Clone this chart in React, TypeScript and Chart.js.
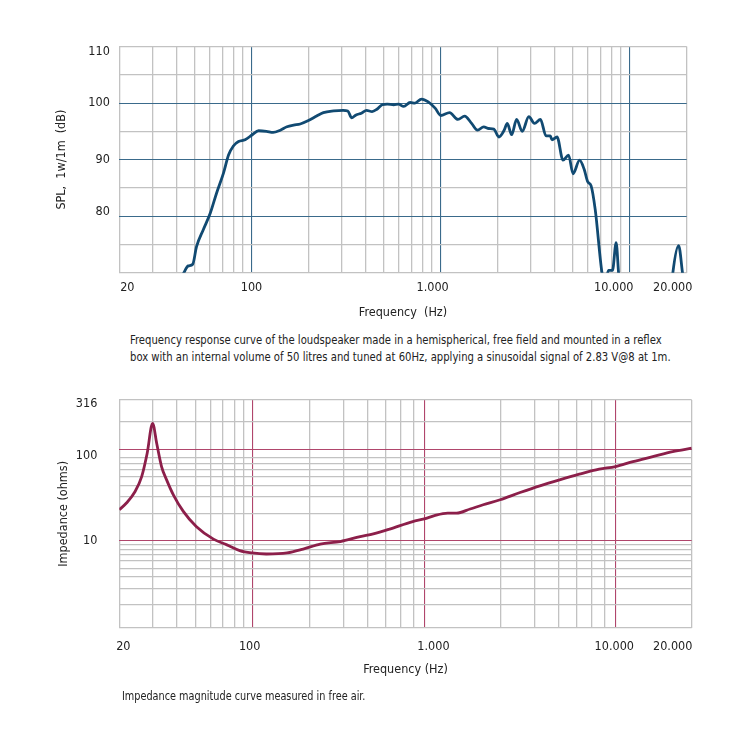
import React, { useEffect, useRef } from 'react';
import { Chart, registerables } from 'chart.js';

Chart.register(...registerables);

const FONT = "'DejaVu Sans Condensed', 'Liberation Sans Narrow', 'DejaVu Sans', sans-serif";

// ---------- Frequency response (SPL) ----------
const SPL_FREQ_HZ = [40, 43.9, 46.3, 48.9, 51.2, 55.6, 60.5, 65.4, 71.1, 75.6, 80.2, 85.4, 92.5, 101, 109, 120, 130, 142, 154, 167, 181, 200, 221, 240, 272, 305, 323, 338, 357, 381, 406, 434, 460, 491, 522, 565, 599, 638, 690, 732, 792, 860, 935, 1002, 1115, 1235, 1340, 1458, 1567, 1690, 1797, 1910, 2032, 2160, 2252, 2374, 2522, 2700, 2926, 3134, 3370, 3609, 3800, 3880, 4126, 4436, 4750, 5010, 5430, 5750, 5990, 6240, 6570, 7130, 7400, 7720, 8100, 8470, 8750, 9200, 12000, 16300, 16900, 18120, 19000, 20000];
const SPL_DB = [67, 70, 71.2, 71.5, 74.6, 77.6, 80.5, 84.1, 87.6, 90.8, 92.4, 93.2, 93.5, 94.4, 95.1, 95.0, 94.8, 95.2, 95.8, 96.1, 96.3, 96.9, 97.7, 98.3, 98.6, 98.7, 98.6, 97.4, 97.9, 98.2, 98.7, 98.5, 98.9, 99.7, 99.8, 99.7, 99.8, 99.4, 100.1, 100.0, 100.7, 100.2, 99.1, 97.8, 98.3, 97.1, 97.7, 96.4, 95.2, 95.8, 95.5, 95.4, 94.0, 95.1, 96.4, 94.4, 97.1, 95.0, 97.6, 96.4, 97.1, 94.2, 94.2, 93.5, 94.0, 89.9, 90.8, 87.5, 89.9, 88.2, 86.1, 85.4, 81.1, 70.0, 68.0, 70.4, 70.4, 75.3, 69.5, 64, 62, 64, 70.0, 74.8, 70.0, 64];

const SPL_X_GRID = [20, 30, 40, 50, 60, 70, 80, 90, 100, 200, 300, 400, 500, 600, 700, 800, 900, 1000, 2000, 3000, 4000, 5000, 6000, 7000, 8000, 9000, 10000, 20000];
const SPL_X_MAJOR = [100, 1000, 10000];
const SPL_X_LABEL_VALUES = [20, 100, 1000, 10000, 20000];
const SPL_X_LABELS = ['20', '100', '1.000', '10.000', '20.000'];

const SPL_Y_GRID = [70, 75, 80, 85, 90, 95, 100, 105, 110];
const SPL_Y_MAJOR = [80, 90, 100];
const SPL_Y_LABEL_VALUES = [110, 100, 90, 80];
const SPL_Y_LABELS = ['110', '100', '90', '80'];

// ---------- Impedance ----------
const IMP_FREQ_HZ = [20, 21.8, 24.2, 26.2, 28.0, 29.9, 31.4, 33.3, 35.4, 38.4, 43.3, 50.6, 62.3, 73.3, 85.5, 99.3, 118, 151.5, 184, 226, 288, 366, 429, 522, 690, 793, 897, 1053, 1170, 1380, 1615, 1980, 2520, 3200, 4060, 5150, 6550, 7970, 9840, 12500, 15900, 20000];
const IMP_OHMS = [21.8, 25.8, 34.5, 50.2, 90.4, 192, 116, 64.6, 46.2, 31.7, 20.9, 14.3, 10.4, 9.0, 7.8, 7.35, 7.16, 7.35, 8.1, 9.2, 9.8, 11.1, 11.9, 13.4, 16.2, 17.3, 18.8, 20.0, 20.0, 22.2, 24.7, 28.0, 33.6, 39.8, 46.3, 53.3, 60.5, 64.6, 73.2, 83, 94.2, 102.5];

const IMP_X_GRID = [20, 30, 40, 50, 60, 70, 80, 90, 100, 200, 300, 400, 500, 600, 700, 800, 2000, 3000, 4000, 5000, 6000, 7000, 8000, 20000];
const IMP_X_MAJOR = [100, 800, 8000];
const IMP_X_LABEL_VALUES = [20, 100, 1000, 10000, 20000];
const IMP_X_LABELS = ['20', '100', '1.000', '10.000', '20.000'];

const IMP_Y_MIN = 1.12;
const IMP_Y_MAX = 345;
const IMP_Y_GRID = [1.12, 2, 3, 4, 5, 6, 7, 8, 9, 10, 20, 30, 40, 50, 60, 70, 80, 100, 200, 345];
const IMP_Y_MAJOR = [10, 100];
const IMP_Y_LABEL_VALUES = [316, 100, 10];
const IMP_Y_LABELS = ['316', '100', '10'];

// ---------- styles ----------
const GRAY = '#c2c2c2';
const BLUE = '#3a6a8b';
const RED = '#b0466c';
const SPL_COLOR = '#114a72';
const IMP_COLOR = '#8c1f4a';
const TEXT = '#222222';
const TICK_SIZE = 12.5;
const TITLE_SIZE = 12.5;

const SPL_X_LABEL_SHIFT = [8, 0, -8, -16, -14];
const SPL_Y_LABEL_SHIFT = [5, 0, 0, -4];
const IMP_X_LABEL_SHIFT = [4, -3, -10, -20, -19];
const IMP_Y_LABEL_SHIFT = [0, 7, 0];

type AxisSpec = {
  type: 'linear' | 'logarithmic';
  min: number;
  max: number;
  grid: number[];
  major: number[];
  majorColor: string;
  labelValues: number[];
  labels: string[];
  size: number;
  tickPadding: number;
  title: string;
  titlePad: any;
  horizontal: boolean;
};

function makeAxis(a: AxisSpec) {
  return {
    type: a.type,
    position: a.horizontal ? 'bottom' : 'left',
    min: a.min,
    max: a.max,
    afterBuildTicks: (s: any) => {
      s.ticks = [...a.grid.map((v) => ({ value: v })), ...a.labelValues.map((v) => ({ value: v }))];
    },
    afterFit: (s: any) => {
      if (a.horizontal) s.height = a.size;
      else s.width = a.size;
    },
    ticks: {
      autoSkip: false,
      maxRotation: 0,
      minRotation: 0,
      padding: a.tickPadding,
      color: TEXT,
      font: { family: FONT, size: TICK_SIZE },
      callback: (_v: any, i: number) => (i >= a.grid.length ? a.labels[i - a.grid.length] : ''),
    },
    grid: {
      drawTicks: false,
      color: (c: any) => {
        if (c.index >= a.grid.length) return 'rgba(0,0,0,0)';
        return a.major.includes(a.grid[c.index]) ? a.majorColor : GRAY;
      },
      lineWidth: (c: any) => {
        if (c.index >= a.grid.length) return 0;
        return a.major.includes(a.grid[c.index]) ? 1.1 : 1.3;
      },
    },
    border: { display: false },
    title: {
      display: true,
      text: a.title,
      color: TEXT,
      font: { family: FONT, size: TITLE_SIZE },
      padding: a.titlePad,
    },
  };
}

function nudgePlugin(list: { id: string; gridCount: number; values: number[]; shifts: number[] }[]) {
  return {
    id: 'labelNudge',
    afterLayout(chart: any) {
      for (const a of list) {
        const s = chart.scales[a.id];
        if (!s) continue;
        a.values.forEach((v, i) => {
          const t = s.ticks[a.gridCount + i];
          if (!t) return;
          t.value = s.getValueForPixel(s.getPixelForValue(v) + a.shifts[i]);
        });
      }
    },
  };
}

function splConfig(): any {
  return {
    type: 'line',
    data: {
      datasets: [
        {
          data: SPL_FREQ_HZ.map((f, i) => ({ x: f, y: SPL_DB[i] })),
          borderColor: SPL_COLOR,
          borderWidth: 2.8,
          pointRadius: 0,
          cubicInterpolationMode: 'monotone',
          fill: false,
        },
      ],
    },
    options: {
      responsive: false,
      animation: false,
      events: [],
      layout: { padding: { left: 0, top: 46.5, right: 64.3, bottom: 0 } },
      plugins: { legend: { display: false }, tooltip: { enabled: false } },
      scales: {
        x: makeAxis({
          type: 'logarithmic', min: 20, max: 20000, grid: SPL_X_GRID, major: SPL_X_MAJOR, majorColor: BLUE,
          labelValues: SPL_X_LABEL_VALUES, labels: SPL_X_LABELS, size: 57.3, tickPadding: 7.8,
          title: 'Frequency  (Hz)', titlePad: { top: 0, bottom: 9.5 }, horizontal: true,
        }),
        y: makeAxis({
          type: 'linear', min: 70, max: 110, grid: SPL_Y_GRID, major: SPL_Y_MAJOR, majorColor: BLUE,
          labelValues: SPL_Y_LABEL_VALUES, labels: SPL_Y_LABELS, size: 119.3, tickPadding: 9.5,
          title: 'SPL,  1w/1m  (dB)', titlePad: { top: 54.5, bottom: 0 }, horizontal: false,
        }),
      },
    },
    plugins: [
      nudgePlugin([
        { id: 'x', gridCount: SPL_X_GRID.length, values: SPL_X_LABEL_VALUES, shifts: SPL_X_LABEL_SHIFT },
        { id: 'y', gridCount: SPL_Y_GRID.length, values: SPL_Y_LABEL_VALUES, shifts: SPL_Y_LABEL_SHIFT },
      ]),
    ],
  };
}

function impConfig(): any {
  return {
    type: 'line',
    data: {
      datasets: [
        {
          data: IMP_FREQ_HZ.map((f, i) => ({ x: f, y: IMP_OHMS[i] })),
          borderColor: IMP_COLOR,
          borderWidth: 2.8,
          pointRadius: 0,
          cubicInterpolationMode: 'monotone',
          fill: false,
        },
      ],
    },
    options: {
      responsive: false,
      animation: false,
      events: [],
      layout: { padding: { left: 0, top: 30, right: 59.3, bottom: 0 } },
      plugins: { legend: { display: false }, tooltip: { enabled: false } },
      scales: {
        x: makeAxis({
          type: 'logarithmic', min: 20, max: 20000, grid: IMP_X_GRID, major: IMP_X_MAJOR, majorColor: RED,
          labelValues: IMP_X_LABEL_VALUES, labels: IMP_X_LABELS, size: 62.3, tickPadding: 11.5,
          title: 'Frequency (Hz)', titlePad: { top: 0, bottom: 12.5 }, horizontal: true,
        }),
        y: makeAxis({
          type: 'logarithmic', min: IMP_Y_MIN, max: IMP_Y_MAX, grid: IMP_Y_GRID, major: IMP_Y_MAJOR, majorColor: RED,
          labelValues: IMP_Y_LABEL_VALUES, labels: IMP_Y_LABELS, size: 119.3, tickPadding: 22,
          title: 'Impedance (ohms)', titlePad: { top: 55.8, bottom: 0 }, horizontal: false,
        }),
      },
    },
    plugins: [
      nudgePlugin([
        { id: 'x', gridCount: IMP_X_GRID.length, values: IMP_X_LABEL_VALUES, shifts: IMP_X_LABEL_SHIFT },
        { id: 'y', gridCount: IMP_Y_GRID.length, values: IMP_Y_LABEL_VALUES, shifts: IMP_Y_LABEL_SHIFT },
      ]),
    ],
  };
}

const captionStyle: React.CSSProperties = {
  position: 'absolute',
  fontFamily: FONT,
  fontSize: 13,
  lineHeight: '17px',
  color: TEXT,
  whiteSpace: 'nowrap',
  margin: 0,
  transformOrigin: '0 0',
};

export default function App() {
  const topRef = useRef<HTMLCanvasElement>(null);
  const botRef = useRef<HTMLCanvasElement>(null);

  useEffect(() => {
    const c1 = new Chart(topRef.current as HTMLCanvasElement, splConfig());
    const c2 = new Chart(botRef.current as HTMLCanvasElement, impConfig());
    return () => {
      c1.destroy();
      c2.destroy();
    };
  }, []);

  return (
    <div style={{ position: 'fixed', left: 0, top: 0, width: 751, height: 751, background: '#fff', overflow: 'hidden' }}>
      <canvas ref={topRef} width={751} height={330} style={{ position: 'absolute', left: 0, top: 0 }} />
      <canvas ref={botRef} width={751} height={320} style={{ position: 'absolute', left: 0, top: 370 }} />
      <div style={{ ...captionStyle, left: 130, top: 330.5, transform: 'scaleX(0.86)' }}>
        Frequency response curve of the loudspeaker made in a hemispherical, free field and mounted in a reflex
        <br />
        box with an internal volume of 50 litres and tuned at 60Hz, applying a sinusoidal signal of 2.83 V@8 at 1m.
      </div>
      <div style={{ ...captionStyle, left: 122, top: 686.5, transform: 'scaleX(0.83)' }}>
        Impedance magnitude curve measured in free air.
      </div>
    </div>
  );
}
